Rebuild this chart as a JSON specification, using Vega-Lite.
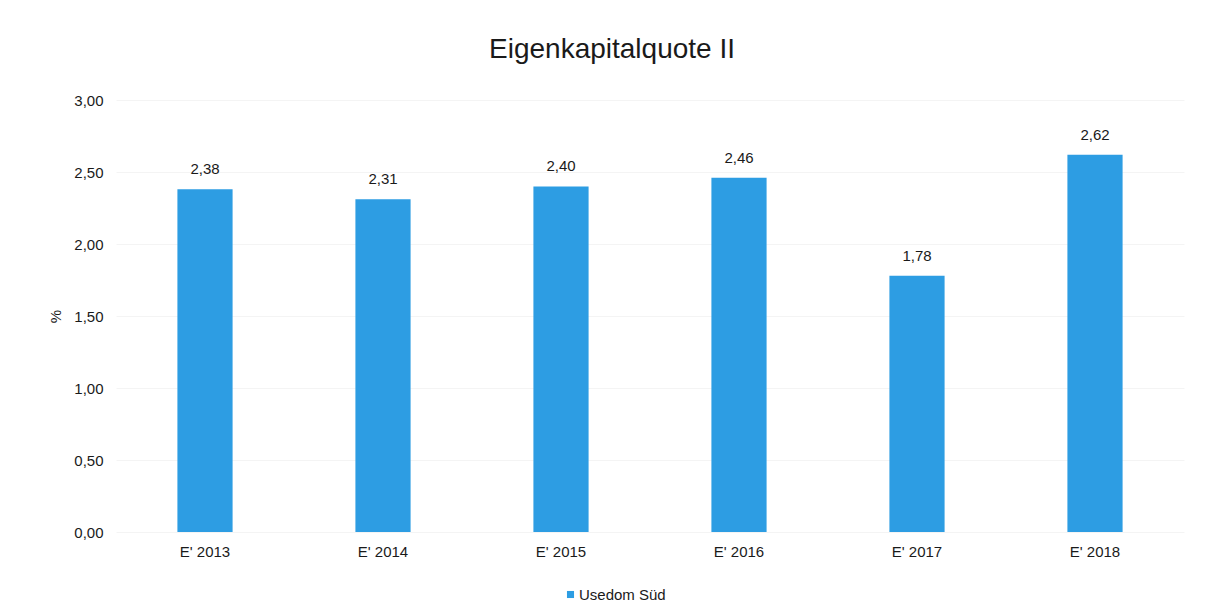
{
  "$schema": "https://vega.github.io/schema/vega-lite/v6.json",
  "autosize": {"type": "none"},
  "width": 1068,
  "height": 432,
  "padding": {"left": 116, "top": 100, "right": 28, "bottom": 74},
  "background": "white",
  "config": {
    "locale": {"number": {"decimal": ",", "thousands": ".", "grouping": [3], "currency": ["", " €"]}},
    "font": "Liberation Sans",
    "view": {"stroke": null},
    "title": {"fontSize": 28, "fontWeight": "normal", "color": "#1a1a1a", "anchor": "middle", "offset": 29, "dx": -38}
  },
  "title": {"text": "Eigenkapitalquote II"},
  "data": {
    "values": [
      {"Jahr": "E' 2013", "Wert": 2.38, "Serie": "Usedom Süd"},
      {"Jahr": "E' 2014", "Wert": 2.31, "Serie": "Usedom Süd"},
      {"Jahr": "E' 2015", "Wert": 2.40, "Serie": "Usedom Süd"},
      {"Jahr": "E' 2016", "Wert": 2.46, "Serie": "Usedom Süd"},
      {"Jahr": "E' 2017", "Wert": 1.78, "Serie": "Usedom Süd"},
      {"Jahr": "E' 2018", "Wert": 2.62, "Serie": "Usedom Süd"}
    ]
  },
  "encoding": {
    "x": {
      "field": "Jahr", "type": "nominal", "sort": null,
      "scale": {"paddingInner": 0.69, "paddingOuter": 0.345},
      "axis": {"title": null, "labelAngle": 0, "labelFontSize": 15, "labelColor": "#1a1a1a", "labelPadding": 12, "domain": false, "ticks": false, "grid": false}
    },
    "y": {
      "field": "Wert", "type": "quantitative",
      "scale": {"domain": [0, 3], "nice": false},
      "axis": {"title": "%", "titleFontSize": 15, "titleFontWeight": "normal", "titleColor": "#1a1a1a", "titlePadding": 10, "values": [0, 0.5, 1, 1.5, 2, 2.5, 3], "format": ".2f", "labelFontSize": 15, "labelColor": "#1a1a1a", "labelPadding": 13, "domain": false, "ticks": false, "grid": true, "gridColor": "#f4f4f4", "gridWidth": 1}
    }
  },
  "layer": [
    {
      "mark": {"type": "bar"},
      "encoding": {
        "color": {
          "field": "Serie", "type": "nominal",
          "scale": {"range": ["#2D9DE3"]},
          "legend": {"title": null, "orient": "none", "legendX": 447, "legendY": 487, "symbolType": "square", "symbolSize": 50, "symbolStrokeWidth": 0, "labelFontSize": 15, "labelColor": "#1a1a1a", "labelOffset": 1}
        }
      }
    },
    {
      "mark": {"type": "text", "baseline": "bottom", "dy": -12, "fontSize": 15, "color": "#1a1a1a"},
      "encoding": {"text": {"field": "Wert", "type": "quantitative", "format": ".2f"}}
    }
  ]
}
